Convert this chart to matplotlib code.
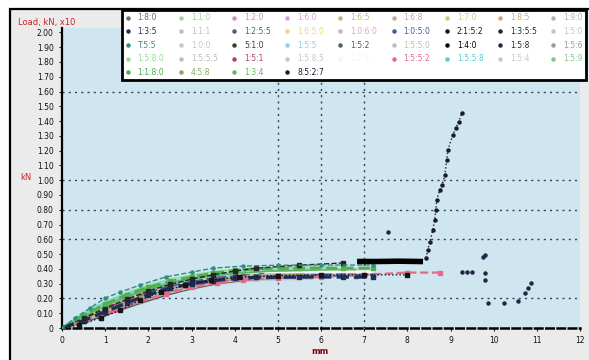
import matplotlib
matplotlib.use("Agg")
import matplotlib.pyplot as plt
from matplotlib.lines import Line2D
from matplotlib.patches import Rectangle

# ---- series labels, colours and line styles ----
labels = [
    "1:8:0", "1:1:0", "1:2:0", "1:6:0", "1:6:5", "1:6:8", "1:7:0", "1:8:5", "1:9:0",
    "1:3:5", "1:1:1", "1:2:5:5", "1:6:5:0", "1:0:6:0", "1:0:5:0", "2:1:5:2", "1:3:5:5", "1:5:0",
    "T:5:5", "1:0:0", "5:1:0", "1:5:5", "1:5:2", "1:5:5:0", "1:4:0", "1:5:8", "1:5:6",
    "1:5:8:0", "1:5:5:5", "1:5:1", "1:5:8:5", "1:2:8", "1:5:5:2", "1:5:5:8", "1:5:4", "1:5:9",
    "1:1:8:0", "4:5:8", "1:3:4", "8:5:2:7",
]
colors = [
    "#6e6e6e", "#9fd49a", "#d98cb3", "#e59ad8", "#b9bd72", "#caa3a3", "#addb72", "#cfa577", "#b3b3b3",
    "#1f2d5a", "#bdbdbd", "#4a5a8a", "#e6dc6e", "#e3a5b5", "#3b5ba8", "#151515", "#262626", "#c4c4c4",
    "#2f8f7a", "#c3cbcb", "#3a3a3a", "#8fd3dc", "#5a5a5a", "#bdbdbd", "#000000", "#22244a", "#9a9a9a",
    "#93db93", "#bcbcbc", "#b04363", "#c6c6c6", "#f4f4f4", "#e36a88", "#5fc9d2", "#cacaca", "#86c486",
    "#4caf50", "#86a862", "#62b462", "#1a1a2e",
]

# ---- measured curves (x, y) ----
xs = [
    [0, 0.5, 1, 1.5, 2, 2.5, 3, 3.5, 4, 5, 6, 6.5],
    [0, 0.6, 1.2, 1.8, 2.4, 3, 3.6, 4.2, 5, 6, 7.2],
    [0, 0.5, 1, 1.5, 2, 2.5, 3, 3.5, 4, 4.6, 5.5, 6.4],
    [0, 0.7, 1.4, 2.1, 2.8, 3.5, 4.2, 5, 5.8],
    [0, 0.5, 1, 1.6, 2.2, 2.8, 3.4, 4, 5, 6],
    [0, 0.8, 1.6, 2.4, 3.2, 4, 4.8, 5.6],
    [0, 0.4, 0.9, 1.5, 2.1, 2.8, 3.5, 4.3, 5.2, 6.6],
    [0, 0.6, 1.3, 2, 2.7, 3.4, 4.1, 5, 6],
    [0, 1, 2, 3, 4, 5, 6, 7],
    [0, 0.5, 1, 1.5, 2, 2.5, 3, 3.5, 4, 4.5, 5.5, 6.5, 7.2],
    [0, 0.7, 1.5, 2.3, 3.1, 3.9, 4.7, 5.5],
    [0, 0.5, 1, 1.5, 2, 2.6, 3.2, 3.8, 4.5, 5.5, 6.8],
    [0, 0.8, 1.6, 2.4, 3.2, 4, 5, 6, 7.2],
    [0, 0.6, 1.2, 1.8, 2.4, 3, 3.6, 4.4, 5.5],
    [0, 0.5, 1, 1.5, 2, 2.5, 3, 3.6, 4.2, 5, 6, 7.2],
    [0, 0.4, 0.9, 1.35, 1.8, 2.3, 2.85, 3.45, 4.1, 5, 6, 7, 8],
    [0, 0.5, 1, 1.5, 2, 2.5, 3, 3.5, 4, 4.5, 5.5, 6.5],
    [0, 0.5, 1, 1.6, 2.2, 2.8, 3.4, 4, 4.8, 5.8],
    [0, 0.3, 0.65, 1.0, 1.35, 1.8, 2.4, 3.0, 3.5, 4.2, 5.0, 6.0, 7.2],
    [0, 0.9, 1.8, 2.7, 3.6, 4.5, 5.4],
    [0, 0.5, 1, 1.5, 2, 2.5, 3, 3.5, 4, 4.6, 5.4],
    [0, 0.4, 0.8, 1.3, 1.9, 2.6, 3.3, 4.1, 5, 6.2],
    [0, 0.6, 1.2, 1.8, 2.4, 3, 3.6, 4.3, 5.2],
    [0, 1, 2, 3, 4, 5, 6],
    [6.9, 7.3, 7.8, 8.3],
    [9.75, 9.81, 9.81, 9.81, 9.86, 10.23, 10.56, 10.72, 10.79, 10.86, 9.26, 9.38, 9.49, 7.55],
    [0, 0.7, 1.4, 2.1, 2.8, 3.5, 4.2, 5],
    [0, 0.5, 1, 1.5, 2, 2.5, 3, 3.6, 4.3, 5.2, 6.2],
    [0, 0.8, 1.6, 2.4, 3.2, 4, 4.8],
    [0, 0.6, 1.2, 1.8, 2.4, 3, 3.6, 4.2, 5],
    [0, 0.6, 1.2, 1.9, 2.6, 3.3, 4, 4.8, 5.6],
    [4.3, 5, 6, 7.2],
    [0, 0.6, 1.2, 1.8, 2.4, 3, 3.6, 4.2, 5, 6, 7, 8, 8.75],
    [0, 0.3, 0.7, 1.1, 1.6, 2.2, 2.9, 3.6, 4.4, 5.3],
    [0, 0.7, 1.4, 2.1, 2.8, 3.5, 4.2],
    [0, 0.5, 1.1, 1.7, 2.3, 2.9, 3.5, 4.1, 4.9, 5.9],
    [0, 0.5, 1, 1.5, 2, 2.5, 3, 3.5, 4, 4.5, 5.5, 6.5, 7.2],
    [0, 0.6, 1.2, 1.8, 2.5, 3.2, 3.9, 4.7, 5.6],
    [0, 0.5, 1, 1.5, 2.1, 2.7, 3.3, 4, 4.8, 5.8, 6.8],
    [8.43, 8.47, 8.52, 8.59, 8.63, 8.66, 8.68, 8.75, 8.80, 8.87, 8.91, 8.94, 9.05, 9.12, 9.19, 9.26],
]
ys = [
    [0, .080, .150, .210, .260, .300, .330, .350, .365, .375, .380, .380],
    [0, .100, .185, .255, .305, .340, .365, .385, .395, .400, .400],
    [0, .055, .115, .170, .220, .260, .295, .320, .335, .345, .350, .350],
    [0, .090, .175, .245, .295, .330, .350, .360, .360],
    [0, .070, .135, .200, .255, .295, .325, .345, .360, .360],
    [0, .075, .160, .235, .290, .325, .340, .345],
    [0, .075, .150, .220, .275, .320, .350, .370, .380, .385],
    [0, .060, .130, .195, .250, .290, .320, .335, .340],
    [0, .120, .230, .310, .355, .375, .385, .385],
    [0, .050, .110, .170, .225, .270, .300, .320, .335, .342, .345, .345, .345],
    [0, .085, .170, .240, .295, .330, .345, .350],
    [0, .045, .100, .160, .215, .265, .300, .325, .340, .350, .355],
    [0, .110, .205, .280, .330, .360, .375, .380, .380],
    [0, .065, .135, .200, .250, .290, .320, .340, .345],
    [0, .060, .125, .185, .240, .285, .315, .340, .355, .360, .362, .362],
    [0, .020, .070, .120, .190, .245, .290, .325, .345, .355, .360, .360, .360],
    [0, .065, .130, .195, .250, .295, .330, .360, .385, .405, .425, .440],
    [0, .040, .090, .150, .205, .250, .285, .310, .325, .330],
    [0, .068, .135, .203, .243, .290, .345, .378, .405, .419, .425, .426, .426],
    [0, .115, .215, .285, .330, .350, .355],
    [0, .070, .140, .205, .260, .305, .335, .360, .375, .385, .390],
    [0, .080, .150, .215, .275, .325, .360, .385, .395, .400],
    [0, .045, .105, .165, .220, .265, .300, .325, .340],
    [0, .105, .215, .295, .345, .365, .370],
    [.450, .450, .452, .450],
    [.480, .493, .372, .324, .169, .169, .182, .236, .270, .304, .378, .378, .378, .649],
    [0, .070, .145, .210, .265, .305, .330, .340],
    [0, .095, .175, .240, .290, .330, .360, .385, .400, .410, .412],
    [0, .090, .180, .255, .310, .340, .350],
    [0, .075, .150, .215, .265, .305, .330, .345, .350],
    [0, .060, .125, .190, .245, .290, .320, .335, .340],
    [.380, .380, .381, .380],
    [0, .060, .120, .180, .230, .275, .305, .325, .340, .345, .360, .375, .375],
    [0, .060, .125, .180, .235, .285, .330, .360, .380, .390],
    [0, .085, .165, .235, .290, .325, .345],
    [0, .080, .160, .225, .280, .320, .350, .370, .385, .390],
    [0, .085, .160, .225, .275, .315, .345, .370, .390, .400, .405, .405, .405],
    [0, .070, .145, .210, .265, .305, .335, .355, .365],
    [0, .075, .150, .215, .270, .315, .345, .370, .385, .392, .395],
    [.473, .527, .581, .662, .730, .797, .865, .932, .966, 1.034, 1.135, 1.203, 1.304, 1.351, 1.392, 1.453],
]

# per-series drawing style
linestyles = ["-"] * 40
widths = [1.0] * 40
markers = [""] * 40
for i in (0, 9, 11, 14, 16, 20, 29, 32, 36):
    linestyles[i] = "--"
    markers[i] = "s"
linestyles[15] = ":"
markers[15] = "s"
linestyles[18] = "--"
markers[18] = "o"
for i, w in ((9, 2.4), (36, 2.2), (31, 2.0), (32, 1.6), (24, 4.0), (14, 1.6)):
    widths[i] = w
linestyles[25] = "none"
markers[25] = "o"
linestyles[39] = ":"
markers[39] = "o"

y_ticks = [i / 10 for i in range(21)]
x_ticks = list(range(13))
h_refs = [0.2, 0.6, 0.8, 1.0, 1.6]
v_refs = [5, 6, 7]

W, H = 589, 360
fig = plt.figure(figsize=(W / 100, H / 100), dpi=100, facecolor="white")
panel = Rectangle((10 / W, -0.1), 1.2, 1.1 - 9 / H, transform=fig.transFigure,
                  facecolor="#ebebeb", edgecolor="black", linewidth=1.6, zorder=-10)
fig.add_artist(panel)

ax = fig.add_axes([62 / W, 1 - 328 / H, (580 - 62) / W, (328 - 28) / H])
ax.set_facecolor("#cfe6f1")

for yv in h_refs:
    ax.axhline(yv, color="#33415a", lw=1.0, ls=(0, (1.5, 3)), zorder=1)
for xv in v_refs:
    ax.axvline(xv, color="#33415a", lw=1.0, ls=(0, (1.5, 3)), zorder=1)

for i in range(40):
    ax.plot(xs[i], ys[i], color=colors[i], lw=widths[i], ls=linestyles[i],
            marker=markers[i] or None, ms=2.2, zorder=3 + (i in (9, 15, 16, 18, 24, 25, 39)))

ax.set_xlim(0, 12)
ax.set_ylim(0, 2.03)
ax.set_xticks(x_ticks)
ax.set_xticklabels([str(v) for v in x_ticks])
ax.set_yticks(y_ticks)
ax.set_yticklabels(["0"] + [f"{v:.2f}" for v in y_ticks[1:]])
ax.tick_params(labelsize=5.5, length=2, width=0.8, colors="#111111", pad=4)
for s in ("top", "right"):
    ax.spines[s].set_visible(False)
ax.spines["left"].set_linewidth(1.6)
ax.spines["bottom"].set_linewidth(1.8)
ax.spines["bottom"].set_linestyle((0, (3, 1.5)))

# legend reads row by row: reorder entries for matplotlib's column-major fill
ncol = 9
order = [r * ncol + c for c in range(ncol) for r in range(5) if r * ncol + c < len(labels)]
handles = [Line2D([], [], color=colors[k], marker="o", ls="none", ms=2.2) for k in order]
leg = fig.legend(handles, [labels[k] for k in order], loc="upper left",
                 bbox_to_anchor=(122 / W, 1 - 10 / H), borderaxespad=0,
                 ncol=ncol, fontsize=5.5, frameon=True, fancybox=False, framealpha=1,
                 edgecolor="black", handlelength=0.6, handletextpad=1.0,
                 columnspacing=1.85, labelspacing=0.6, borderpad=0.45)
leg.get_frame().set_linewidth(2.0)
for txt, k in zip(leg.get_texts(), order):
    txt.set_color(colors[k])

fig.text(18 / W, 1 - 23 / H, "Load, kN, x10", color="#d02020", fontsize=6, va="center")
fig.text(20 / W, 1 - 178 / H, "kN", color="#d02020", fontsize=6, va="center")
fig.text(320 / W, 1 - 351 / H, "mm", color="#8b0000", fontsize=6, fontweight="bold",
         ha="center", va="center")

fig.savefig("out.png", dpi=100, facecolor="white")
